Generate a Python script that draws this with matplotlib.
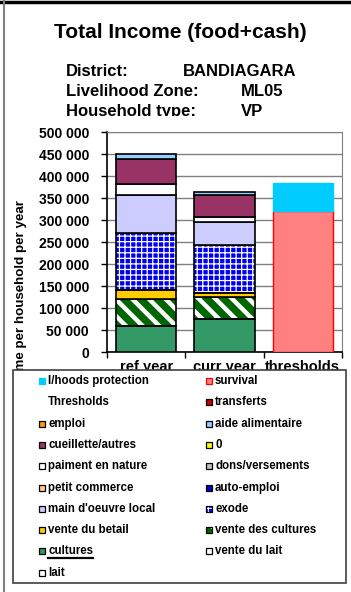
import numpy as np
import matplotlib
matplotlib.use("Agg")
import matplotlib.pyplot as plt
from matplotlib.patches import Rectangle
from matplotlib.lines import Line2D
from matplotlib.transforms import Bbox, TransformedBbox

plt.rcParams["font.family"] = ["Liberation Sans", "DejaVu Sans"]
plt.rcParams["font.weight"] = "bold"

# Income data (FCFA per household per year), stacked bottom -> top
categories = ["ref year", "curr year", "thresholds"]
sources = ["cultures", "vente des cultures", "vente du betail", "exode",
           "main d'oeuvre local", "paiment en nature", "cueillette/autres", "aide alimentaire"]
ref_year = [60000, 60000, 20000, 130000, 87000, 25000, 56000, 12000]
curr_year = [76000, 48000, 10000, 109000, 52000, 12000, 50000, 6000]
threshold_names = ["survival", "l/hoods protection"]
threshold_values = [320000, 65000]
yticks = np.arange(0, 500001, 50000)

district = "BANDIAGARA"
zone = "ML05"
hh_type = "VP"

legend_left = ["l/hoods protection", "Thresholds", "emploi", "cueillette/autres", "paiment en nature",
               "petit commerce", "main d'oeuvre local", "vente du betail", "cultures", "lait"]
legend_right = ["survival", "transferts", "aide alimentaire", "0", "dons/versements",
                "auto-emploi", "exode", "vente des cultures", "vente du lait"]

# face, edge, hatch
styles = {
    "l/hoods protection": ("#00CCFF", "#00CCFF", None),
    "survival": ("#FF8080", "#FF0000", None),
    "transferts": ("#CC0000", "black", None),
    "emploi": ("#FF9900", "black", None),
    "aide alimentaire": ("#99CCFF", "black", None),
    "cueillette/autres": ("#993366", "black", None),
    "0": ("#FFFF00", "black", None),
    "paiment en nature": ("#FFFFFF", "black", None),
    "dons/versements": ("#C0C0C0", "black", None),
    "petit commerce": ("#FFCC99", "black", None),
    "auto-emploi": ("#0000CC", "black", None),
    "main d'oeuvre local": ("#CCCCFF", "black", None),
    "exode": ("#0000EE", "black", "+++"),
    "vente du betail": ("#FFCC00", "black", None),
    "vente des cultures": ("#006600", "black", "\\\\"),
    "cultures": ("#339966", "black", None),
    "vente du lait": ("#FFFFFF", "black", None),
    "lait": ("#FFFFFF", "black", None),
}
hatch_width = {"+++": 0.9, "\\\\": 3.2}

W, H = 351, 592
fig = plt.figure(figsize=(W / 100, H / 100), dpi=100)
ax = fig.add_axes([107 / W, 1 - 352 / H, 235 / W, 220 / H])

x = np.arange(len(categories))
bar_w = 0.77

# Stacked income bars
bottom = np.zeros(2)
for name, r, c in zip(sources, ref_year, curr_year):
    face, edge, hatch = styles[name]
    vals = np.array([r, c], dtype=float)
    if hatch:
        with plt.rc_context({"hatch.linewidth": hatch_width[hatch]}):
            ax.bar(x[:2], vals, bar_w, bottom=bottom, color=face, edgecolor="white",
                   hatch=hatch, linewidth=0, zorder=2)
        ax.bar(x[:2], vals, bar_w, bottom=bottom, fill=False, edgecolor=edge, linewidth=1.2, zorder=3)
    else:
        ax.bar(x[:2], vals, bar_w, bottom=bottom, color=face, edgecolor=edge, linewidth=1.2, zorder=3)
    bottom += vals

# Thresholds bar
tb = 0
for name, v in zip(threshold_names, threshold_values):
    face, edge, _ = styles[name]
    ax.bar(x[2], v, bar_w, bottom=tb, color=face, edgecolor=edge, linewidth=1.0, zorder=3)
    tb += v

ax.set_xlim(-0.5, 2.5)
ax.set_ylim(0, 500000)
ax.set_yticks(yticks)
ax.set_yticklabels([f"{v:,.0f}".replace(",", " ") for v in yticks], fontsize=10, fontweight="bold")
ax.set_xticks(x)
ax.set_xticklabels(categories, fontsize=10.5, fontweight="bold")
ax.set_xticks([-0.5, 0.5, 1.5, 2.5], minor=True)
ax.tick_params(axis="x", which="major", length=0, pad=6)
ax.tick_params(axis="x", which="minor", length=4, width=1, direction="out")
ax.tick_params(axis="y", length=4, width=1, direction="out", pad=9)
ax.yaxis.grid(True, color="#808080", linewidth=1, zorder=0)
ax.set_axisbelow(True)
for s in ["top", "right"]:
    ax.spines[s].set_color("#808080")
ax.spines["left"].set_linewidth(1.2)
ax.spines["bottom"].set_linewidth(1.2)

fig.text(21 / W, 1 - 200 / H, "Income per household per year", rotation=90, ha="center", va="top",
         fontsize=9.6, fontweight="bold")

# Titles
fig.text(180 / W, 1 - 33 / H, "Total Income (food+cash)", ha="center", va="center", fontsize=15, fontweight="bold")
clip = TransformedBbox(Bbox([[0, 1 - 116 / H], [1, 1]]), fig.transFigure)
rows = [("District:", district, 183), ("Livelihood Zone:", zone, 241), ("Household type:", hh_type, 241)]
for k, (lab, val, vx) in enumerate(rows):
    yb = 1 - (76 + 20 * k) / H
    t1 = fig.text(66 / W, yb, lab, ha="left", va="baseline", fontsize=12, fontweight="bold")
    t2 = fig.text(vx / W, yb, val, ha="left", va="baseline", fontsize=12, fontweight="bold")
    for t in (t1, t2):
        t.set_clip_box(clip)
        t.set_clip_on(True)

# Legend box
fig.add_artist(Rectangle((13 / W, 1 - 583 / H), 333 / W, 213 / H, transform=fig.transFigure,
                         facecolor="white", edgecolor="#404040", linewidth=1.2, zorder=4))

row0, pitch = 381, 21.3
renderer = fig.canvas.get_renderer()
for items, mx in [(legend_left, 39), (legend_right, 206)]:
    for k, name in enumerate(items):
        yc = row0 + pitch * k
        if name in styles:
            face, edge, hatch = styles[name]
            if name not in ("survival", "l/hoods protection"):
                edge = "black"
            xy = (mx / W, 1 - (yc + 3) / H)
            if hatch:
                with plt.rc_context({"hatch.linewidth": 0.8}):
                    fig.add_artist(Rectangle(xy, 6 / W, 6 / H, transform=fig.transFigure, facecolor=face,
                                             edgecolor="white", hatch=hatch, linewidth=0, zorder=5))
                fig.add_artist(Rectangle(xy, 6 / W, 6 / H, transform=fig.transFigure, fill=False,
                                         edgecolor=edge, linewidth=0.9, zorder=5))
            else:
                fig.add_artist(Rectangle(xy, 6 / W, 6 / H, transform=fig.transFigure,
                                         facecolor=face, edgecolor=edge, linewidth=0.9, zorder=5))
        t = fig.text((mx + 9) / W, 1 - yc / H, name, ha="left", va="center", fontsize=8.3,
                     fontweight="bold", zorder=6)
        if name == "cultures":
            bb = t.get_window_extent(renderer)
            fig.add_artist(Line2D([bb.x0 / W, bb.x1 / W], [(bb.y0 - 0.5) / H] * 2,
                                  transform=fig.transFigure, color="black", linewidth=1.6, zorder=6))

# Outer chart border
fig.add_artist(Line2D([0, 1], [1 - 2 / H] * 2, transform=fig.transFigure, color="black", linewidth=2.5))
fig.add_artist(Line2D([3.5 / W] * 2, [0, 1], transform=fig.transFigure, color="#808080", linewidth=1.5))

fig.savefig("out.png", dpi=100)
